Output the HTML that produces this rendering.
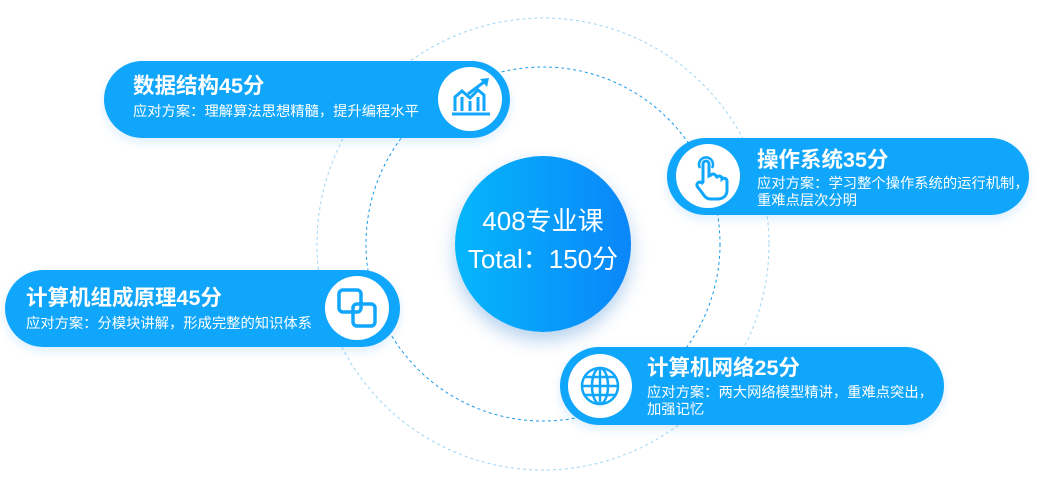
<!DOCTYPE html>
<html><head><meta charset="utf-8"><style>
body{margin:0;width:1042px;height:484px;background:#fff;position:relative;overflow:hidden;font-family:"Liberation Sans","Noto Sans CJK SC",sans-serif;}
.pill{position:absolute;background:#10a6fb;border-radius:40px;color:#fff;box-shadow:0 4px 10px rgba(16,140,240,.15);}
.t{position:absolute;font-weight:bold;font-size:21.5px;white-space:nowrap;line-height:24px;}
.s{position:absolute;font-size:14.3px;line-height:17px;white-space:nowrap;}
.ic{position:absolute;width:64px;height:64px;border-radius:50%;background:#fff;}
svg.bg{position:absolute;left:0;top:0}
.center{position:absolute;left:455px;top:156px;width:176px;height:176px;border-radius:50%;background:linear-gradient(90deg,#05b6fb,#0a86f9);box-shadow:0 8px 18px rgba(0,100,200,.3);color:#fff;text-align:center;font-size:26px;line-height:38px;}
</style></head><body>
<svg class="bg" width="1042" height="484">
<circle cx="543" cy="244" r="226" fill="none" stroke="#9fd6f5" stroke-width="1" stroke-dasharray="3 3"/>
<circle cx="543" cy="244" r="177" fill="none" stroke="#1a9be8" stroke-width="1" stroke-dasharray="3 3"/>
</svg>
<div class="center"><div style="margin-top:46px">408专业课</div><div>Total：150分</div></div>

<div class="pill" style="left:104px;top:61px;width:406px;height:77px">
<div class="t" style="left:29px;top:13px">数据结构45分</div>
<div class="s" style="left:29px;top:43px">应对方案：理解算法思想精髓，提升编程水平</div>
<div class="ic" style="left:334px;top:6px">
<svg width="64" height="64"><g fill="none" stroke="#10a6fb" stroke-width="3"><path d="M17 44V30l7-6 8 7 8-8 6 5v16M24 30v14M32 34v10M40 30v14"/><path d="M14 47h38"/><path d="M30 27l16-12"/></g><path d="M42 12l9-1-2 9z" fill="#10a6fb"/></svg></div>
</div>

<div class="pill" style="left:667px;top:138px;width:362px;height:77px">
<div class="ic" style="left:9px;top:6px">
<svg width="64" height="64"><path d="M27 38V20a3 3 0 0 1 6 0v12l2-1a3 3 0 0 1 5 1l1 1a3 3 0 0 1 5 1v1a3 3 0 0 1 5 2v9c0 6-4 9-10 9h-6c-4 0-6-2-8-5l-6-8a3 3 0 0 1 5-3z" fill="none" stroke="#10a6fb" stroke-width="3"/><path d="M24 24a7 7 0 1 1 12 0" fill="none" stroke="#10a6fb" stroke-width="2.5"/></svg></div>
<div class="t" style="left:90px;top:10px">操作系统35分</div>
<div class="s" style="left:90px;top:38px">应对方案：学习整个操作系统的运行机制，<br>重难点层次分明</div>
</div>

<div class="pill" style="left:5px;top:270px;width:395px;height:77px">
<div class="t" style="left:21px;top:16px">计算机组成原理45分</div>
<div class="s" style="left:21px;top:46px">应对方案：分模块讲解，形成完整的知识体系</div>
<div class="ic" style="left:320px;top:6px">
<svg width="64" height="64"><rect x="14" y="14" width="22" height="22" rx="4" fill="none" stroke="#10a6fb" stroke-width="3.5"/><rect x="28" y="28" width="22" height="22" rx="4" fill="none" stroke="#10a6fb" stroke-width="3.5"/></svg></div>
</div>

<div class="pill" style="left:560px;top:347px;width:384px;height:78px">
<div class="ic" style="left:8px;top:7px">
<svg width="64" height="64"><g fill="none" stroke="#10a6fb" stroke-width="2.5"><circle cx="32" cy="32" r="18"/><ellipse cx="32" cy="32" rx="8" ry="18"/><path d="M32 14v36M14 32h36M17 23h30M17 41h30"/></g></svg></div>
<div class="t" style="left:87px;top:9px">计算机网络25分</div>
<div class="s" style="left:87px;top:38px">应对方案：两大网络模型精讲，重难点突出，<br>加强记忆</div>
</div>
</body></html>
